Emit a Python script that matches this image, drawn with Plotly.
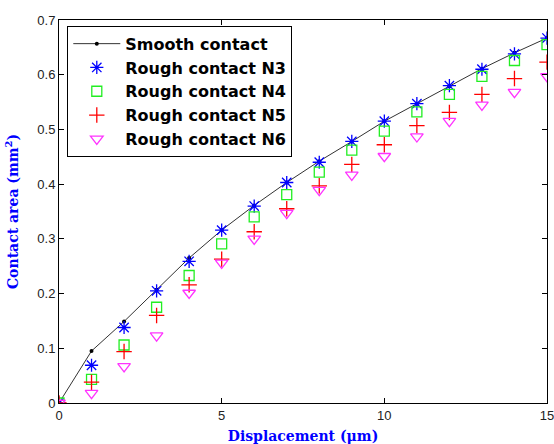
import plotly.graph_objects as go

disp = list(range(0, 16))
smooth = [0, 0.095, 0.149, 0.207, 0.265, 0.316, 0.361, 0.403, 0.442, 0.478, 0.515, 0.547, 0.579, 0.611, 0.640, 0.667]
n3 = [0, 0.069, 0.138, 0.205, 0.259, 0.316, 0.360, 0.403, 0.440, 0.478, 0.515, 0.547, 0.580, 0.610, 0.638, 0.667]
n4 = [0, 0.043, 0.106, 0.175, 0.233, 0.291, 0.340, 0.381, 0.422, 0.462, 0.497, 0.532, 0.564, 0.597, 0.626, 0.655]
n5 = [0, 0.038, 0.094, 0.160, 0.216, 0.263, 0.313, 0.355, 0.397, 0.436, 0.472, 0.507, 0.531, 0.564, 0.593, 0.623]
n6 = [0, 0.018, 0.067, 0.123, 0.201, 0.256, 0.300, 0.347, 0.389, 0.417, 0.451, 0.487, 0.515, 0.545, 0.568, 0.597]

fig = go.Figure()
fig.add_trace(go.Scatter(x=disp, y=smooth, mode="lines+markers", name="Smooth contact",
                         line=dict(color="#333333", width=1),
                         marker=dict(symbol="circle", size=4, color="black")))
fig.add_trace(go.Scatter(x=disp, y=n3, mode="markers", name="Rough contact N3",
                         marker=dict(symbol="asterisk-open", size=11, color="blue",
                                     line=dict(color="blue", width=1.3))))
fig.add_trace(go.Scatter(x=disp, y=n4, mode="markers", name="Rough contact N4",
                         marker=dict(symbol="square-open", size=10, color="#22ee22",
                                     line=dict(color="#22ee22", width=1.3))))
fig.add_trace(go.Scatter(x=disp, y=n5, mode="markers", name="Rough contact N5",
                         marker=dict(symbol="cross-thin-open", size=11, color="red",
                                     line=dict(color="red", width=1.3))))
fig.add_trace(go.Scatter(x=disp, y=n6, mode="markers", name="Rough contact N6",
                         marker=dict(symbol="triangle-down-open", size=11, color="#ff33ff",
                                     line=dict(color="#ff33ff", width=1.3))))

axis_common = dict(showline=True, linecolor="black", linewidth=1, mirror="ticks",
                   ticks="inside", ticklen=5, tickcolor="black", showgrid=False,
                   zeroline=False, ticklabeloverflow="allow",
                   tickfont=dict(family="Arial", size=13, color="#222222"))
fig.update_xaxes(range=[0, 15], tickvals=[0, 5, 10, 15], automargin=False,
                 title=dict(text="Displacement (μm)",
                            font=dict(family="DejaVu Serif", size=14, color="blue", weight="bold")),
                 **axis_common)
fig.update_yaxes(range=[0, 0.7], tickvals=[0, 0.1, 0.2, 0.3, 0.4, 0.5, 0.6, 0.7],
                 ticktext=["0", "0.1", "0.2", "0.3", "0.4", "0.5", "0.6", "0.7"], automargin=False,
                 title=dict(text="Contact area (mm<sup>2</sup>)",
                            font=dict(family="DejaVu Serif", size=14, color="blue", weight="bold")),
                 **axis_common)
fig.update_layout(
    width=554, height=444,
    margin=dict(l=59, r=7, t=20, b=41),
    plot_bgcolor="white", paper_bgcolor="white",
    legend=dict(x=0.017, y=0.985, xanchor="left", yanchor="top",
                bordercolor="black", borderwidth=1, bgcolor="white",
                font=dict(family="DejaVu Sans", size=16, color="black", weight="bold"),
                tracegroupgap=0, itemwidth=47),
)
fig.write_html("out.html")
